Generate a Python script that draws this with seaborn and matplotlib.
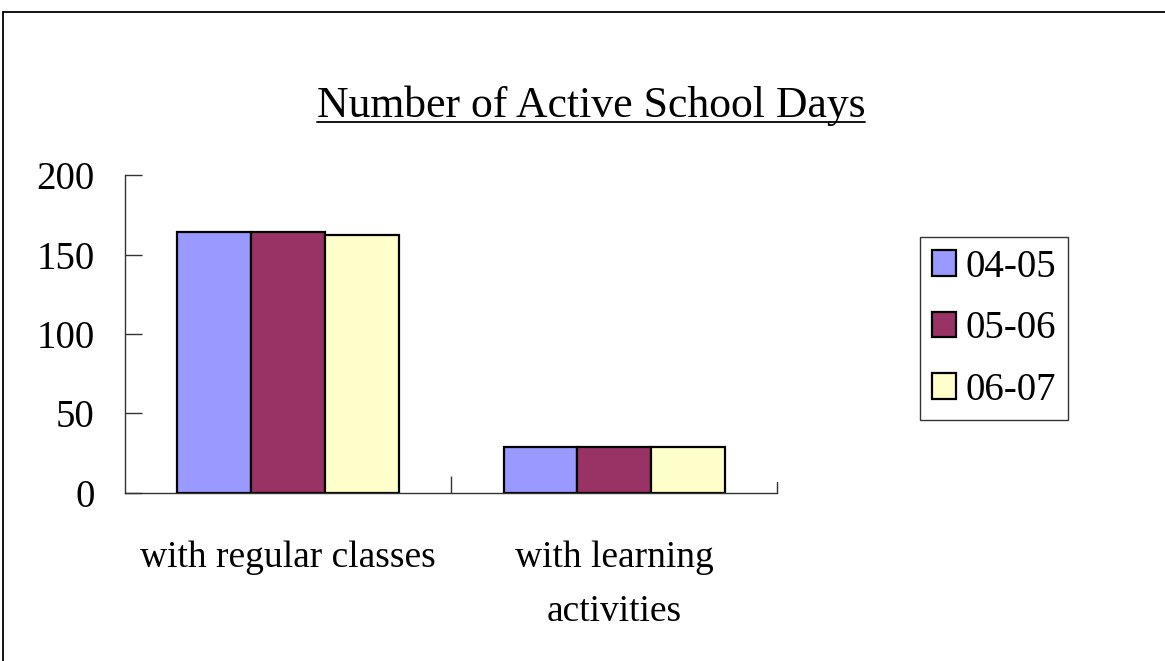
import pandas as pd
import matplotlib
matplotlib.use('Agg')
import matplotlib.pyplot as plt
from matplotlib.lines import Line2D
from matplotlib.patches import Rectangle, Patch
import seaborn as sns

categories = ['with regular classes', 'with learning\nactivities']
years = ['04-05', '05-06', '06-07']
days_0405 = [164, 29]
days_0506 = [164, 29]
days_0607 = [162, 29]
colors = ['#9999FF', '#993366', '#FFFFCC']

df = pd.DataFrame({
    'category': categories * 3,
    'year': [y for y in years for _ in categories],
    'days': days_0405 + days_0506 + days_0607,
})

sns.set_theme(style='white')
plt.rcParams['font.family'] = ['Liberation Serif', 'DejaVu Serif']
plt.rcParams['text.color'] = 'black'
plt.rcParams['xtick.color'] = 'black'
plt.rcParams['ytick.color'] = 'black'

fig = plt.figure(figsize=(11.65, 6.61), dpi=100)
ax = fig.add_axes([0.1073, 0.2542, 0.5597, 0.481])

sns.barplot(data=df, x='category', y='days', hue='year', palette=colors,
            width=0.678, edgecolor='black', linewidth=1.6, ax=ax,
            legend=False, saturation=1)

ax.set_xlim(-0.5, 1.5)
ax.set_ylim(0, 200)
ax.set_yticks([0, 50, 100, 150, 200])
ax.set_xticks([0.5], minor=True)
ax.set_xlabel('')
ax.set_ylabel('')
for s in ['top', 'right']:
    ax.spines[s].set_visible(False)
for s in ['left', 'bottom']:
    ax.spines[s].set_color('#333333')
    ax.spines[s].set_linewidth(1.0)
ax.tick_params(axis='y', direction='in', length=12, width=1, color='#333333',
               labelsize=28, pad=22, left=True)
ax.tick_params(axis='x', which='major', length=0, labelsize=27, pad=34)
ax.tick_params(axis='x', which='minor', direction='in', length=12, width=1,
               color='#333333', bottom=True)
# end tick at right of x axis
ax.plot([1.5, 1.5], [0, 0.035], transform=ax.get_xaxis_transform(),
        color='#333333', lw=1, clip_on=False)
for lbl in ax.get_xticklabels():
    lbl.set_linespacing(1.75)

handles = [Patch(facecolor=c, edgecolor='black', linewidth=1.6) for c in colors]
leg = fig.legend(handles, years, loc='upper left',
                 bbox_to_anchor=(920 / 1165, 1 - 237 / 661),
                 fontsize=28, frameon=True, fancybox=False,
                 edgecolor='black', handlelength=0.62, handleheight=0.62,
                 handletextpad=0.25, labelspacing=0.63, borderpad=0.3,
                 borderaxespad=0)
leg.get_frame().set_linewidth(1.0)

title = fig.text(591 / 1165, 1 - 106 / 661, 'Number of Active School Days',
                 ha='center', va='center', fontsize=31.5)

# underline title
fig.canvas.draw()
bb = title.get_window_extent(renderer=fig.canvas.get_renderer())
inv = fig.transFigure.inverted()
(x0, y0), (x1, y1) = inv.transform([(bb.x0, bb.y0), (bb.x1, bb.y1)])
fig.add_artist(Line2D([x0, x1], [y0 + 0.006, y0 + 0.006], color='black', lw=1.3))

# outer frame
fig.add_artist(Rectangle((3 / 1165, -0.05), 1.1, 1 - 12 / 661 + 0.05,
                         transform=fig.transFigure, fill=False,
                         edgecolor='black', lw=1.3))

fig.savefig('out.png', dpi=100)
